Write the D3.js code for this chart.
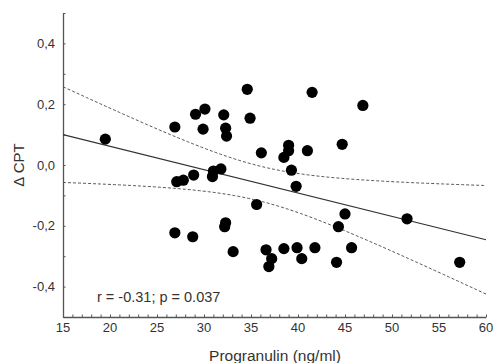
<!DOCTYPE html>
<html>
<head>
<meta charset="utf-8">
<script src="https://cdn.jsdelivr.net/npm/d3@7/dist/d3.min.js"></script>
<style>
  body { margin: 0; background: #fff; }
  svg { display: block; }
  text { font-family: "Liberation Sans", Arial, sans-serif; fill: #333; }
</style>
</head>
<body>
<svg id="chart" width="493" height="363"></svg>
<script>
// Progranulin (ng/ml) values
const progranulin = [19.5, 26.9, 29.1, 30.1, 29.9, 32.1, 32.3, 32.4, 34.6, 34.9,
  41.5, 46.9, 36.1, 39.0, 39.0, 38.5, 41.0, 44.7, 39.3, 39.8,
  35.6, 27.1, 27.8, 28.9, 30.9, 31.0, 31.8, 26.9, 28.8, 32.3,
  32.2, 33.1, 36.6, 37.2, 36.9, 38.5, 39.9, 40.4, 41.8, 44.1,
  44.3, 45.0, 45.7, 51.6, 57.2];
// Delta CPT values
const deltaCPT = [0.085, 0.125, 0.167, 0.184, 0.118, 0.165, 0.121, 0.095, 0.249, 0.154,
  0.239, 0.196, 0.040, 0.065, 0.047, 0.025, 0.047, 0.068, -0.017, -0.070,
  -0.130, -0.055, -0.050, -0.033, -0.038, -0.020, -0.013, -0.223, -0.236, -0.190,
  -0.203, -0.285, -0.279, -0.308, -0.334, -0.275, -0.272, -0.308, -0.272, -0.320,
  -0.203, -0.161, -0.272, -0.177, -0.320];
// fitted line: [intercept at x=15, slope]
const fitLine = [0.100, -0.00769];
// confidence band: [center x, min variance, curvature]
const bandParams = [35.9, 0.0033, 0.0000492];
const xTicks = [15, 20, 25, 30, 35, 40, 45, 50, 55, 60];
const yTicks = [-0.4, -0.2, 0.0, 0.2, 0.4];
const annotation = "r = -0.31; p = 0.037";

const svg = d3.select("#chart");
const x = d3.scaleLinear().domain([15, 60]).range([63, 486]);
const y = d3.scaleLinear().domain([-0.5, 0.5]).range([317, 13]);

const axisColor = "#555";

// axes
const xAxis = svg.append("g").attr("transform", "translate(0,317)")
  .call(d3.axisBottom(x).tickValues(d3.range(15, 61, 1)).tickSizeInner(-2.5).tickSizeOuter(0).tickFormat(""));
const yAxis = svg.append("g").attr("transform", "translate(63,0)")
  .call(d3.axisLeft(y).tickValues(d3.range(-5, 6).map(d => d / 10)).tickSizeInner(-2.5).tickSizeOuter(0).tickFormat(""));
[xAxis, yAxis].forEach(g => {
  g.selectAll("path, line").attr("stroke", axisColor).attr("stroke-width", 1);
});
xAxis.select("path.domain").attr("stroke-width", 1.3);
yAxis.select("path.domain").attr("stroke-width", 1.3);

// tick labels
svg.append("g").selectAll("text").data(xTicks).join("text")
  .attr("x", d => x(d)).attr("y", 332)
  .attr("text-anchor", "middle").attr("font-size", 13)
  .text(d => d);
const fmtY = d => d3.format(".1f")(d).replace(".", ",").replace("−", "-");
svg.append("g").selectAll("text").data(yTicks).join("text")
  .attr("x", 55).attr("y", d => y(d)).attr("dy", "0.35em")
  .attr("text-anchor", "end").attr("font-size", 13)
  .text(d => fmtY(d));

// axis titles
svg.append("text").attr("x", 275).attr("y", 361)
  .attr("text-anchor", "middle").attr("font-size", 15.5)
  .text("Progranulin (ng/ml)");
svg.append("text").attr("transform", "translate(24,165) rotate(-90)")
  .attr("text-anchor", "middle").attr("font-size", 15)
  .text("Δ CPT");

// fit and bands
const xs = d3.range(15, 60.01, 0.25);
const fitY = v => fitLine[0] + fitLine[1] * (v - 15);
const half = v => Math.sqrt(bandParams[1] + bandParams[2] * (v - bandParams[0]) ** 2);
const line = d3.line().x(d => x(d[0])).y(d => y(d[1]));

svg.append("path").datum(xs.map(v => [v, fitY(v) + half(v)]))
  .attr("d", line).attr("fill", "none").attr("stroke", "#555")
  .attr("stroke-width", 1).attr("stroke-dasharray", "3,2");
svg.append("path").datum(xs.map(v => [v, fitY(v) - half(v)]))
  .attr("d", line).attr("fill", "none").attr("stroke", "#555")
  .attr("stroke-width", 1).attr("stroke-dasharray", "3,2");
svg.append("path").datum([15, 60].map(v => [v, fitY(v)]))
  .attr("d", line).attr("fill", "none").attr("stroke", "#333")
  .attr("stroke-width", 1.1);

// points
svg.append("g").selectAll("circle").data(progranulin.map((v, i) => [v, deltaCPT[i]]))
  .join("circle")
  .attr("cx", d => x(d[0])).attr("cy", d => y(d[1])).attr("r", 5.6)
  .attr("fill", "#000");

// annotation
svg.append("text").attr("x", 97).attr("y", 302).attr("font-size", 14.5)
  .text(annotation);
</script>
</body>
</html>
